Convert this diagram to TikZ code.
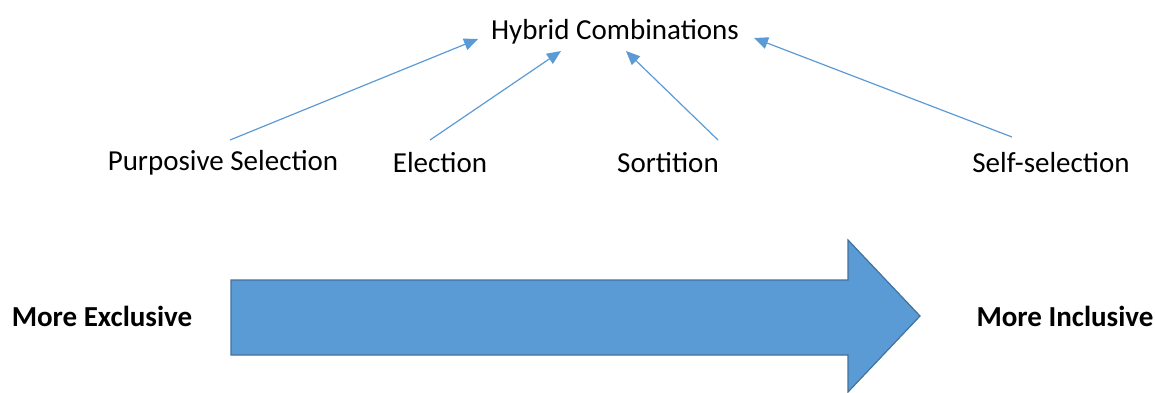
\documentclass[tikz,border=0pt]{standalone}
\usepackage{fontspec}
\setmainfont{Carlito}
\usetikzlibrary{arrows.meta,calc}
\definecolor{accent}{HTML}{5B9BD5}
\definecolor{accentdark}{HTML}{41719C}
\begin{document}
\begin{tikzpicture}[x=1pt,y=-1pt,
  lbl/.style={font=\fontsize{29}{34}\selectfont, inner sep=0pt},
  feed/.style={draw=accent, line width=1.2pt, -{Triangle[length=14pt,width=12pt]}}]
\useasboundingbox (0,0) rectangle (1155,392);
% labels
\node[lbl] (hc) at (615,32) {Hybrid Combinations};
\node[lbl] (ps) at (223,163) {Purposive Selection};
\node[lbl] (el) at (440,163) {Election};
\node[lbl] (so) at (668,163) {Sortition};
\node[lbl] (ss) at (1051,163) {Self-selection};
\node[lbl, font=\fontsize{29}{34}\selectfont\bfseries] (ex) at (102,316) {More Exclusive};
\node[lbl, font=\fontsize{29}{34}\selectfont\bfseries] (in) at (1065,316) {More Inclusive};
% feeders into the hybrid label
\coordinate (psT) at (230,140);
\coordinate (elT) at (430,140);
\coordinate (soT) at (718,140);
\coordinate (ssT) at (1012,137);
\coordinate (hcA) at (478,39);
\coordinate (hcB) at (561,51);
\coordinate (hcC) at (626,51);
\coordinate (hcD) at (754,38);
\draw[feed] (psT) -- (hcA);
\draw[feed] (elT) -- (hcB);
\draw[feed] (soT) -- (hcC);
\draw[feed] (ssT) -- (hcD);
% big arrow
\filldraw[fill=accent, draw=accentdark, line width=1.2pt, line join=miter]
  (231,280) -- (848,280) -- (848,240) -- (920,316) -- (848,392) -- (848,355) -- (231,355) -- cycle;
\end{tikzpicture}
\end{document}
